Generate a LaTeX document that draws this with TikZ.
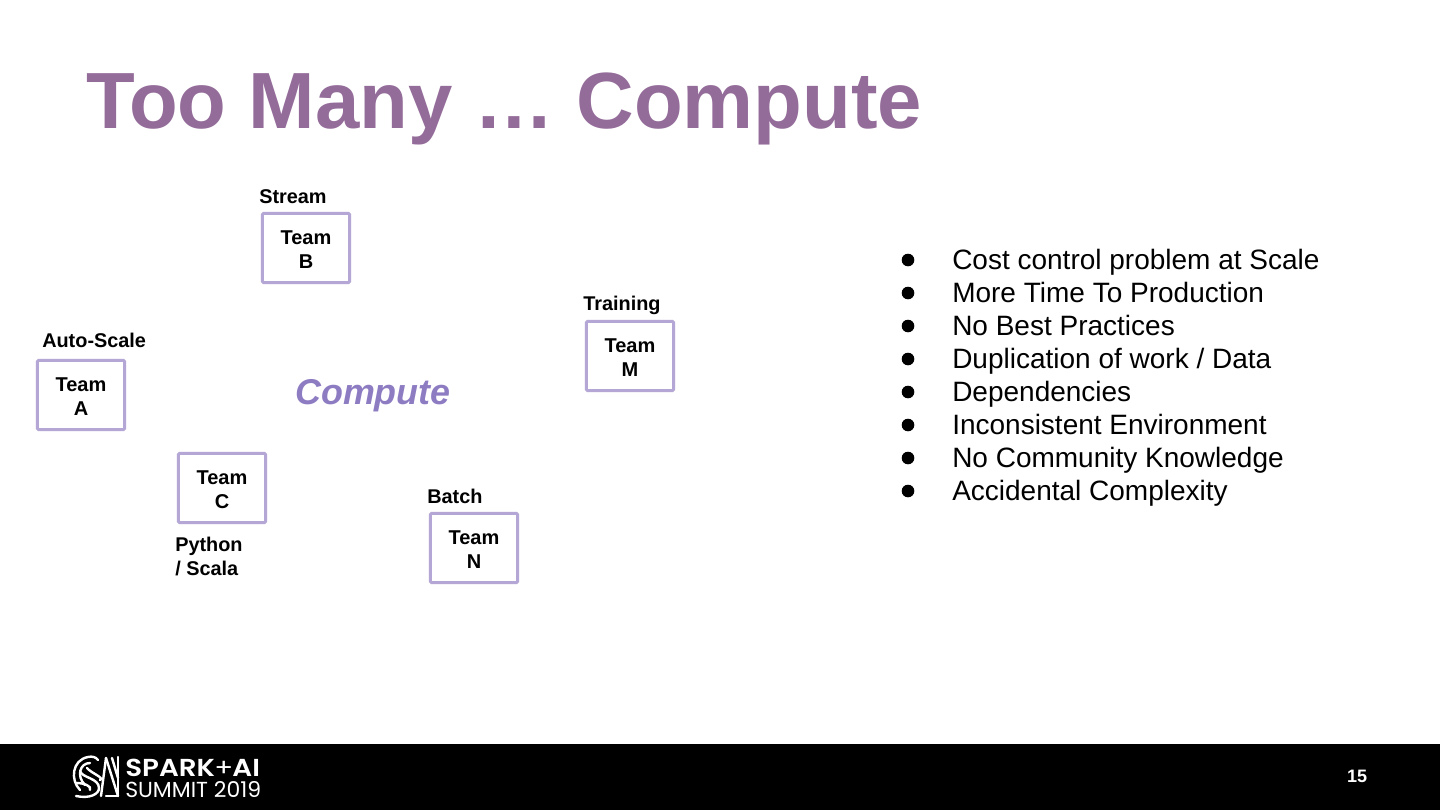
\documentclass[tikz,border=0pt]{standalone}
\usepackage{fontspec}
\setmainfont{Liberation Sans}
\newfontfamily\logob{Poppins}[UprightFont=* SemiBold]
\newfontfamily\logol{Poppins}
\definecolor{titlec}{HTML}{946C9A}
\definecolor{boxc}{HTML}{B4A7D6}
\definecolor{compc}{HTML}{8E7CC3}
\tikzset{x=0.75pt,y=-0.75pt,
 teambox/.style={draw=boxc,line width=2.25pt,rounded corners=1pt,minimum width=65.5pt,minimum height=52pt,inner sep=0pt,align=center,font=\fontsize{15}{18}\selectfont\bfseries,text=black},
 lbl/.style={anchor=west,inner sep=0pt,font=\fontsize{14.9}{18}\selectfont\bfseries,text=black,align=left},
 bul/.style={anchor=base west,inner sep=0pt,font=\fontsize{21}{25}\selectfont,text=black}}
\newcommand{\teamtext}[1]{\rule{0pt}{12.3pt}Team\\#1}
\begin{document}
\begin{tikzpicture}
\useasboundingbox (0,0) rectangle (1440,810);
\fill[white] (0,0) rectangle (1440,810);
\fill[black] (0,744) rectangle (1440,810);
\node[anchor=base west,inner sep=0pt,text=titlec,font=\fontsize{59.8}{70}\selectfont\bfseries] (title) at (86,128) {Too Many … Compute};
\node[teambox] (a) at (81,395) {\teamtext{A}};
\node[teambox] (b) at (306,248) {\teamtext{B}};
\node[teambox] (c) at (222,488) {\teamtext{C}};
\node[teambox] (m) at (630,356) {\teamtext{M}};
\node[teambox] (n) at (474,548) {\teamtext{N}};
\node[lbl] (la) at (42,340.5) {Auto-Scale};
\node[lbl] (lb) at (259,196.5) {Stream};
\node[lbl] (lm) at (583,305) {Training};
\node[lbl] (ln) at (427,496.5) {Batch};
\node[lbl] (lc) at (175,556) {Python\\/ Scala};
\node[anchor=base west,inner sep=0pt,text=compc,font=\fontsize{26.9}{30}\selectfont\bfseries\itshape] (comp) at (295,404) {Compute};
\foreach \t [count=\i] in {Cost control problem at Scale,More Time To Production,No Best Practices,Duplication of work / Data,Dependencies,Inconsistent Environment,No Community Knowledge,Accidental Complexity}{
 \node[bul] (t\i) at (952,{269+33*(\i-1)}) {\t};
 \fill[black] (908,{260+33*(\i-1)}) circle (6.3);
}
\node[anchor=base west,inner sep=0pt,text=white,xscale=1.13,font=\fontsize{18.4}{20}\logob] (s1) at (125,776) {SPARK\kern-0.5pt{\logol+}\kern-0.5pt AI};
\node[anchor=base west,inner sep=0pt,text=white,xscale=1.01,font=\fontsize{16.3}{20}\logol] (s2) at (125,797) {SUMMIT 2019};
\node[anchor=center,inner sep=0pt,text=white,font=\fontsize{13.5}{16}\selectfont\bfseries] (pg) at (1357,776) {15};
\begin{scope}[white,line width=1.8pt,line cap=round]
\draw (80,790) .. controls (70,780) and (72,760) .. (88,757) .. controls (92,756) and (96,757) .. (98,760);
\draw (85,785) .. controls (76,776) and (80,763) .. (90,763);
\draw (80,771) .. controls (82,778) and (99,778) .. (99,788) .. controls (99,794) and (90,799) .. (76,796);
\draw (87,768) .. controls (91,773) and (105,778) .. (100,780);
\draw (76,783) .. controls (84,783) and (92,786) .. (90,790);
\draw (101,796) -- (106,758);
\draw (106,796) -- (117,796);
\draw (106,758) -- (118,796);
\draw (118,757) -- (118,796);
\draw (112,758) -- (118,778);
\end{scope}
\end{tikzpicture}
\end{document}
